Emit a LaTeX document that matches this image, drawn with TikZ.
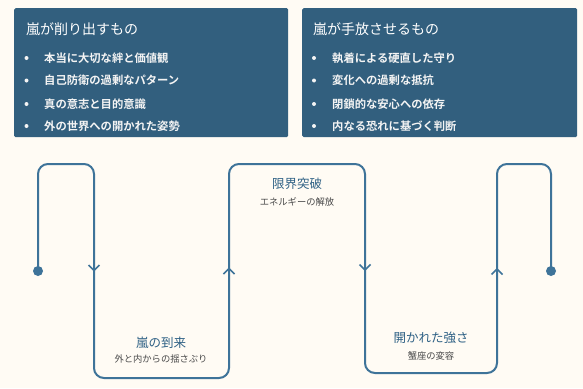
\documentclass[tikz,border=0pt]{standalone}
\usepackage{fontspec}
\setmainfont{Noto Sans CJK JP}[BoldFont={Noto Sans CJK JP Bold}]
\definecolor{bg}{HTML}{FFFBF4}
\definecolor{boxc}{HTML}{325F7E}
\definecolor{linec}{HTML}{3E7399}
\definecolor{ttl}{HTML}{2F6185}
\definecolor{subc}{HTML}{4A4A4A}
\definecolor{bul}{HTML}{F4F4F4}
\tikzset{
  panel/.style={fill=boxc, rounded corners=1.5pt, minimum height=129pt, anchor=north west, inner sep=0pt},
  paneltitle/.style={anchor=west, text=white, font=\fontsize{14pt}{16pt}\selectfont, inner sep=0pt},
  bullettext/.style={anchor=west, text=bul, font=\bfseries\fontsize{11.3pt}{13pt}\selectfont, inner sep=0pt},
  bulletdot/.style={circle, fill=bul, minimum size=4pt, inner sep=0pt},
  flow/.style={draw=linec, line width=2pt, rounded corners=10pt},
  chev/.style={draw=linec, line width=1.6pt},
  enddot/.style={circle, fill=linec, minimum size=10pt, inner sep=0pt},
  stagetitle/.style={text=ttl, font=\fontsize{12.5pt}{14pt}\selectfont, inner sep=0pt},
  stagesub/.style={text=subc, font=\fontsize{9.3pt}{11pt}\selectfont, inner sep=0pt}
}
\begin{document}
\begin{tikzpicture}[x=1pt,y=-1pt]
\fill[bg] (0,0) rectangle (583,388);
\useasboundingbox (0,0) rectangle (583,388);

% panels
\node[panel, minimum width=274pt] (PL) at (14,8) {};
\node[panel, minimum width=275pt] (PR) at (302,8) {};

\node[paneltitle] (tL) at (26,29) {嵐が削り出すもの};
\node[bulletdot] (bL1) at (26.5,58) {};
\node[bullettext] (L1) at (44,58) {本当に大切な絆と価値観};
\node[bulletdot] (bL2) at (26.5,80.5) {};
\node[bullettext] (L2) at (44,80.5) {自己防衛の過剰なパターン};
\node[bulletdot] (bL3) at (26.5,104) {};
\node[bullettext] (L3) at (44,104) {真の意志と目的意識};
\node[bulletdot] (bL4) at (26.5,126) {};
\node[bullettext] (L4) at (44,126) {外の世界への開かれた姿勢};

\node[paneltitle] (tR) at (313,29) {嵐が手放させるもの};
\node[bulletdot] (bR1) at (314,58) {};
\node[bullettext] (R1) at (332,58) {執着による硬直した守り};
\node[bulletdot] (bR2) at (314,80.5) {};
\node[bullettext] (R2) at (332,80.5) {変化への過剰な抵抗};
\node[bulletdot] (bR3) at (314,104) {};
\node[bullettext] (R3) at (332,104) {閉鎖的な安心への依存};
\node[bulletdot] (bR4) at (314,126) {};
\node[bullettext] (R4) at (332,126) {内なる恐れに基づく判断};

% flow line
\node[enddot] (s) at (38,271) {};
\node[enddot] (e) at (551,271) {};
\coordinate (c1) at (38,164);
\coordinate (c2) at (94,164);
\coordinate (c3) at (94,378);
\coordinate (c4) at (229,378);
\coordinate (c5) at (229,164);
\coordinate (c6) at (365,164);
\coordinate (c7) at (365,373);
\coordinate (c8) at (497,373);
\coordinate (c9) at (497,164);
\coordinate (c10) at (551,164);
\draw[flow] (s.center) -- (c1) -- (c2) -- (c3) -- (c4) -- (c5) -- (c6) -- (c7) -- (c8) -- (c9) -- (c10) -- (e.center);

% chevrons
\coordinate (a1) at (94,270.5);
\coordinate (a2) at (229,268.5);
\coordinate (a3) at (365,270);
\coordinate (a4) at (497,269);
\draw[chev] ([shift={(-5.5,-5.5)}]a1) -- (a1) -- ([shift={(5.5,-5.5)}]a1);
\draw[chev] ([shift={(-5.5,5.5)}]a2) -- (a2) -- ([shift={(5.5,5.5)}]a2);
\draw[chev] ([shift={(-5.5,-5.5)}]a3) -- (a3) -- ([shift={(5.5,-5.5)}]a3);
\draw[chev] ([shift={(-5.5,5.5)}]a4) -- (a4) -- ([shift={(5.5,5.5)}]a4);

% stage labels
\node[stagetitle] (st1) at (161,342.5) {嵐の到来};
\node[stagesub] (ss1) at (161,359) {外と内からの揺さぶり};
\node[stagetitle] (st2) at (297,184) {限界突破};
\node[stagesub] (ss2) at (297,202) {エネルギーの解放};
\node[stagetitle] (st3) at (431,338) {開かれた強さ};
\node[stagesub] (ss3) at (431,355.5) {蟹座の変容};
\end{tikzpicture}
\end{document}
